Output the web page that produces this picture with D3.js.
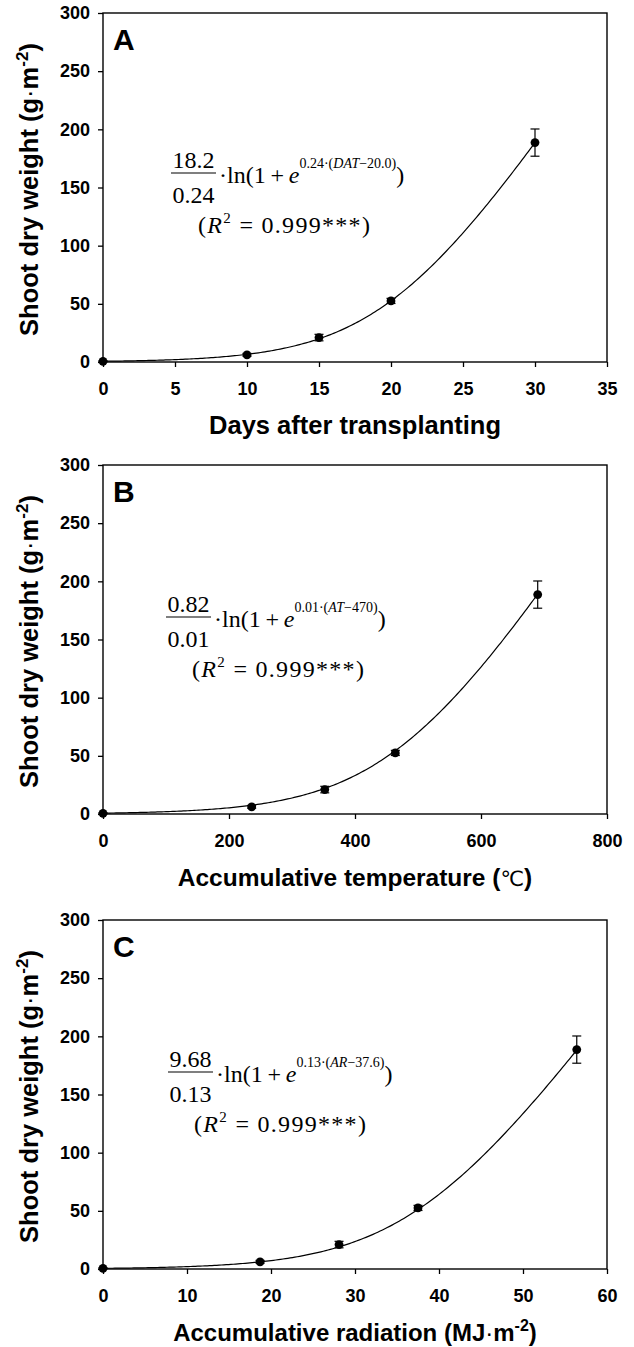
<!DOCTYPE html>
<html>
<head>
<meta charset="utf-8">
<script src="https://cdn.jsdelivr.net/npm/d3@7"></script>
<style>
  body { margin: 0; background: #fff; }
  text { fill: #000; }
</style>
</head>
<body>
<script>
var dayX = [0, 10, 15, 20, 30];
var tempX = [0, 236, 352, 464, 690];
var radX = [0, 18.7, 28.1, 37.5, 56.4];
var shootY = [0.6, 6.2, 21, 52.5, 188.6];
var shootErr = [0.5, 1.2, 2.8, 2.2, 11.7];

// fitted parameters shown on each panel: a, b, x0
var fitA = [18.2, 0.24, 20.0];
var fitB = [0.82, 0.01, 470];
var fitC = [9.68, 0.13, 37.6];

var yTicks = [0, 50, 100, 150, 200, 250, 300];
var xTicksA = [0, 5, 10, 15, 20, 25, 30, 35];
var xTicksB = [0, 200, 400, 600, 800];
var xTicksC = [0, 10, 20, 30, 40, 50, 60];

var W = 634, H = 1347;
var svg = d3.select("body").append("svg")
  .attr("width", W)
  .attr("height", H);

var sans = "'Liberation Sans', Arial, sans-serif";
var serif = "'Liberation Serif', 'Times New Roman', serif";

var panels = [
  { label: "A", top: 13, xs: dayX, xmax: 35, ticks: xTicksA, fit: fitA, var: "DAT",
    num: "18.2", den: "0.24", b: "0.24", c: "20.0", tsize: 25.5,
    fx: 171, fy: 160, rx: 198, ry: 220, title: "Days after transplanting" },
  { label: "B", top: 465, xs: tempX, xmax: 800, ticks: xTicksB, fit: fitB, var: "AT",
    num: "0.82", den: "0.01", b: "0.01", c: "470", tsize: 24.5,
    fx: 166, fy: 152, rx: 192, ry: 212, title: "temp" },
  { label: "C", top: 920, xs: radX, xmax: 60, ticks: xTicksC, fit: fitC, var: "AR",
    num: "9.68", den: "0.13", b: "0.13", c: "37.6", tsize: 24,
    fx: 168, fy: 152, rx: 194, ry: 212, title: "rad" }
];

var left = 103, right = 607, ph = 349;

panels.forEach(function(p) {
  var g = svg.append("g").attr("transform", "translate(0," + p.top + ")");

  var x = d3.scaleLinear().domain([0, p.xmax]).range([left, right]);
  var y = d3.scaleLinear().domain([0, 300]).range([ph, 0]);

  // frame
  g.append("rect")
    .attr("x", left).attr("y", 0)
    .attr("width", right - left).attr("height", ph)
    .attr("fill", "none").attr("stroke", "#000").attr("stroke-width", 1.4);

  // axes
  var xa = g.append("g").attr("transform", "translate(0," + ph + ")")
    .call(d3.axisBottom(x).tickValues(p.ticks).tickSize(5).tickPadding(15));
  var ya = g.append("g").attr("transform", "translate(" + left + ",0)")
    .call(d3.axisLeft(y).tickValues(yTicks).tickSize(5).tickPadding(8));
  [xa, ya].forEach(function(a) {
    a.select(".domain").remove();
    a.selectAll("line").attr("stroke", "#000").attr("stroke-width", 1.3);
    a.selectAll("text")
      .attr("font-family", sans).attr("font-size", 18).attr("font-weight", "bold")
      .attr("fill", "#000");
  });

  // fitted curve from the parameters printed on the panel
  var f = p.fit;
  var model = function(v) { return f[0] / f[1] * Math.log(1 + Math.exp(f[1] * (v - f[2]))); };
  var last = p.xs[p.xs.length - 1];
  var xsCurve = d3.range(0, 201).map(function(i) { return last * i / 200; });
  g.append("path")
    .datum(xsCurve)
    .attr("fill", "none").attr("stroke", "#000").attr("stroke-width", 1.2)
    .attr("d", d3.line().x(function(v) { return x(v); }).y(function(v) { return y(model(v)); }));

  // error bars
  var eb = g.selectAll(".eb").data(p.xs).enter().append("g");
  eb.append("line")
    .attr("x1", function(d) { return x(d); }).attr("x2", function(d) { return x(d); })
    .attr("y1", function(d, i) { return y(shootY[i] + shootErr[i]); })
    .attr("y2", function(d, i) { return y(shootY[i] - shootErr[i]); })
    .attr("stroke", "#000").attr("stroke-width", 1.2);
  [1, -1].forEach(function(s) {
    eb.append("line")
      .attr("x1", function(d) { return x(d) - 4.5; }).attr("x2", function(d) { return x(d) + 4.5; })
      .attr("y1", function(d, i) { return y(shootY[i] + s * shootErr[i]); })
      .attr("y2", function(d, i) { return y(shootY[i] + s * shootErr[i]); })
      .attr("stroke", "#000").attr("stroke-width", 1.2);
  });

  // points
  g.selectAll(".pt").data(p.xs).enter().append("circle")
    .attr("cx", function(d) { return x(d); })
    .attr("cy", function(d, i) { return y(shootY[i]); })
    .attr("r", 4.4).attr("fill", "#000");

  // panel letter
  g.append("text").attr("x", left + 10).attr("y", 37)
    .attr("font-family", sans).attr("font-size", 30).attr("font-weight", "bold")
    .text(p.label);

  // y title
  var yt = g.append("text")
    .attr("transform", "translate(38," + (ph / 2 + 2) + ") rotate(-90)")
    .attr("text-anchor", "middle")
    .attr("font-family", sans).attr("font-size", 25.5).attr("font-weight", "bold");
  yt.append("tspan").text("Shoot dry weight (g");
  yt.append("tspan").attr("font-weight", "normal").text("·");
  yt.append("tspan").text("m");
  yt.append("tspan").attr("font-size", 17).attr("dy", -10).text("-2");
  yt.append("tspan").attr("dy", 10).text(")");

  // x title
  var xt = g.append("text")
    .attr("x", (left + right) / 2).attr("y", ph + 72)
    .attr("text-anchor", "middle")
    .attr("font-family", sans).attr("font-size", p.tsize).attr("font-weight", "bold");
  if (p.title === "temp") {
    xt.append("tspan").text("Accumulative temperature (");
    xt.append("tspan").attr("font-weight", "normal").attr("font-family", "'DejaVu Sans', sans-serif")
      .attr("font-size", 21).text("℃");
    xt.append("tspan").text(")");
  } else if (p.title === "rad") {
    xt.append("tspan").text("Accumulative radiation (MJ");
    xt.append("tspan").attr("font-weight", "normal").text("·");
    xt.append("tspan").text("m");
    xt.append("tspan").attr("font-size", 16).attr("dy", -10).text("-2");
    xt.append("tspan").attr("dy", 10).text(")");
  } else {
    xt.text(p.title);
  }

  // equation
  var eq = g.append("g").attr("font-family", serif);
  var barW = 45;
  eq.append("line")
    .attr("x1", p.fx).attr("x2", p.fx + barW)
    .attr("y1", p.fy).attr("y2", p.fy)
    .attr("stroke", "#000").attr("stroke-width", 1.1);
  eq.append("text").attr("x", p.fx + barW / 2).attr("y", p.fy - 5)
    .attr("text-anchor", "middle").attr("font-size", 24).text(p.num);
  eq.append("text").attr("x", p.fx + barW / 2).attr("y", p.fy + 30)
    .attr("text-anchor", "middle").attr("font-size", 24).text(p.den);
  var ln = eq.append("text").attr("x", p.fx + barW + 3).attr("y", p.fy + 10).attr("font-size", 24);
  ln.append("tspan").text("·ln(1\u2009+\u2009");
  ln.append("tspan").attr("font-style", "italic").text("e");
  ln.append("tspan").attr("font-size", 14).attr("dy", -15).text(p.b + "·(");
  ln.append("tspan").attr("font-size", 14).attr("font-style", "italic").text(p.var);
  ln.append("tspan").attr("font-size", 14).text("−" + p.c + ")");
  ln.append("tspan").attr("dy", 15).text(")");

  var r2 = eq.append("text").attr("x", p.rx).attr("y", p.ry).attr("font-size", 24)
    .attr("letter-spacing", 1.3);
  r2.append("tspan").text("(");
  r2.append("tspan").attr("font-style", "italic").text("R");
  r2.append("tspan").attr("font-size", 15).attr("dy", -10).text("2");
  r2.append("tspan").attr("dy", 10).text(" = 0.999***)");
});
</script>
</body>
</html>
